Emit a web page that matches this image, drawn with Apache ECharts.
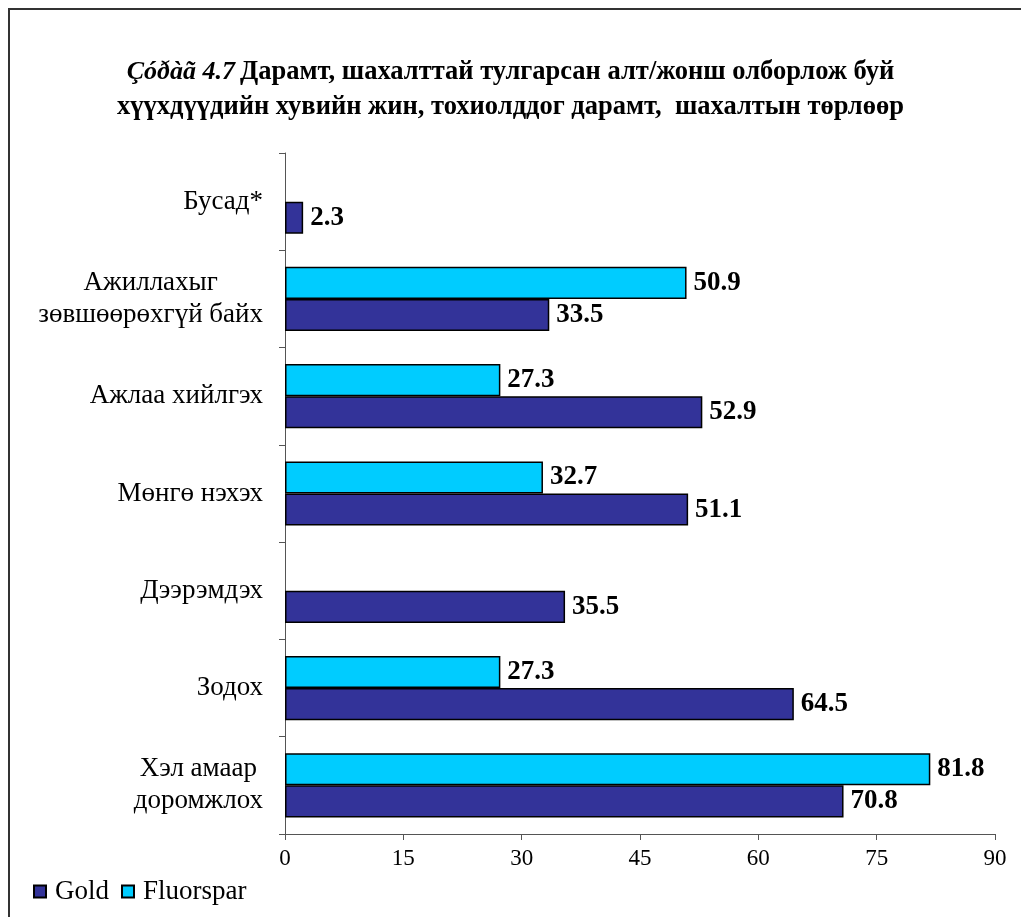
<!DOCTYPE html>
<html>
<head>
<meta charset="utf-8">
<script src="https://cdn.jsdelivr.net/npm/echarts@6/dist/echarts.min.js"></script>
<style>
html,body{margin:0;padding:0;background:#fff;}
#chart{width:1021px;height:917px;}
</style>
</head>
<body>
<div id="chart"></div>
<script>
const categories = ['Хэл амаар\nдоромжлох', 'Зодох', 'Дээрэмдэх', 'Мөнгө нэхэх', 'Ажлаа хийлгэх', 'Ажиллахыг\nзөвшөөрөхгүй байх', 'Бусад*'];
const goldValues = [70.8, 64.5, 35.5, 51.1, 52.9, 33.5, 2.3];
const fluorsparValues = [81.8, 27.3, null, 32.7, 27.3, 50.9, null];
const xTicks = [0, 15, 30, 45, 60, 75, 90];

const FONT = '"Liberation Serif", "Times New Roman", serif';
const chart = echarts.init(document.getElementById('chart'));

const labelStyle = {
  show: true,
  position: 'right',
  distance: 7,
  fontFamily: FONT,
  fontWeight: 'bold',
  fontSize: 27,
  color: '#000',
  formatter: p => p.value == null ? '' : p.value.toFixed(1)
};

chart.setOption({
  animation: false,
  backgroundColor: '#fff',
  graphic: [{
    type: 'rect',
    shape: { x: 9, y: 9, width: 1100, height: 1000 },
    style: { fill: 'none', stroke: '#333', lineWidth: 2 },
    silent: true
  }],
  title: {
    left: 'center',
    top: 50,
    text: '{i|Çóðàã 4.7} {b|Дарамт, шахалттай тулгарсан алт/жонш олборлож буй}\n{b|хүүхдүүдийн хувийн жин, тохиолддог дарамт,  шахалтын төрлөөр}',
    textStyle: {
      rich: {
        i: { fontFamily: FONT, fontStyle: 'italic', fontSize: 26, color: '#000', lineHeight: 35 },
        b: { fontFamily: FONT, fontWeight: 'bold', fontSize: 26.5, color: '#000', lineHeight: 35 }
      }
    }
  },
  legend: {
    left: 28,
    top: 873,
    itemWidth: 12,
    itemHeight: 12,
    itemGap: 12,
    icon: 'rect',
    textStyle: { fontFamily: FONT, fontSize: 27, color: '#000', padding: [0, 0, 0, 4] },
    data: ['Gold', 'Fluorspar']
  },
  grid: { left: 285, right: 26, top: 153, bottom: 83, containLabel: false },
  xAxis: {
    type: 'value',
    min: 0,
    max: 90,
    interval: 15,
    axisLine: { show: true, lineStyle: { color: '#555', width: 1 } },
    axisTick: { show: true, inside: false, length: 6, lineStyle: { color: '#555' } },
    splitLine: { show: false },
    axisLabel: {
      fontFamily: FONT, fontSize: 23, color: '#000', margin: 13,
      formatter: v => xTicks.includes(v) ? String(v) : ''
    }
  },
  yAxis: {
    type: 'category',
    data: categories,
    axisLine: { show: true, lineStyle: { color: '#555', width: 1 } },
    axisTick: { show: true, inside: false, length: 6, alignWithLabel: false, lineStyle: { color: '#555' } },
    axisLabel: {
      fontFamily: FONT, fontSize: 27, color: '#000', margin: 22, lineHeight: 32, align: 'right',
      formatter: v => v.split('\n').map(s => '{c|' + s + '}').join('\n'),
      rich: {
        c: { fontFamily: FONT, fontSize: 27, color: '#000', lineHeight: 32, align: 'center' }
      }
    },
    splitLine: { show: false }
  },
  series: [
    {
      name: 'Fluorspar',
      type: 'bar',
      data: fluorsparValues,
      barGap: '0%',
      barCategoryGap: '34%',
      itemStyle: { color: '#00CCFF', borderColor: '#000', borderWidth: 1.5 },
      label: labelStyle
    },
    {
      name: 'Gold',
      type: 'bar',
      data: goldValues,
      barGap: '0%',
      barCategoryGap: '34%',
      itemStyle: { color: '#333399', borderColor: '#000', borderWidth: 1.5 },
      label: labelStyle
    }
  ]
});
</script>
</body>
</html>
